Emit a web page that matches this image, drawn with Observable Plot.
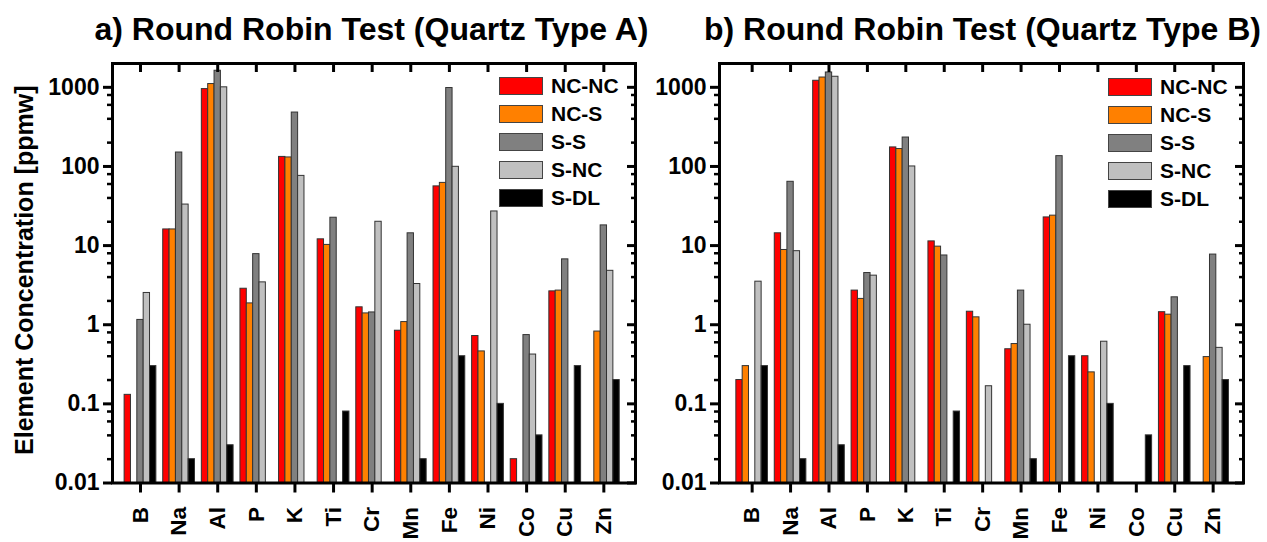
<!DOCTYPE html>
<html>
<head>
<meta charset="utf-8">
<script src="https://cdn.jsdelivr.net/npm/d3@7"></script>
<script src="https://cdn.jsdelivr.net/npm/@observablehq/plot@0.6"></script>
<style>
  body { margin: 0; background: #fff; }
  #chart { position: relative; width: 1267px; height: 542px; overflow: hidden;
           font-family: "Liberation Sans", Arial, sans-serif; color: #000; }
  .panel { position: absolute; top: 0; }
  .title { position: absolute; top: 13px; font-size: 32px; line-height: 32px; font-weight: bold;
           white-space: nowrap; transform: translateX(-50%); }
  .legend { position: absolute; }
  .legend-item { position: absolute; left: 0; height: 18px; white-space: nowrap; }
  .swatch { position: absolute; left: 0; top: 0; width: 42px; height: 16px; border: 1.5px solid #444; }
  .legend-label { position: absolute; left: 52px; top: -3px; font-size: 21px; line-height: 24px; font-weight: bold; }
</style>
</head>
<body>
<div id="chart"></div>
<script>
// Elements measured in the round robin test
const elements = ["B", "Na", "Al", "P", "K", "Ti", "Cr", "Mn", "Fe", "Ni", "Co", "Cu", "Zn"];
const series = ["NC-NC", "NC-S", "S-S", "S-NC", "S-DL"];
const seriesColors = ["#ff0000", "#ff8000", "#808080", "#c0c0c0", "#000000"];
const yTickValues = [0.01, 0.1, 1, 10, 100, 1000];
const yTickLabels = ["0.01", "0.1", "1", "10", "100", "1000"];
const titles = ["a) Round Robin Test (Quartz Type A)", "b) Round Robin Test (Quartz Type B)"];
const yLabel = "Element Concentration [ppmw]";

// Concentrations in ppmw, one value per element (null = no bar)
const typeA_NCNC = [0.13, 16, 950, 2.85, 132, 12.0, 1.66, 0.84, 56, 0.72, 0.02, 2.64, null];
const typeA_NCS  = [null, 16, 1100, 1.86, 130, 10.2, 1.39, 1.08, 62, 0.46, null, 2.7, 0.82];
const typeA_SS   = [1.15, 150, 1620, 7.8, 480, 22.5, 1.43, 14.3, 980, null, 0.74, 6.7, 18];
const typeA_SNC  = [2.52, 33, 1000, 3.43, 76, null, 20, 3.27, 99, 27, 0.42, null, 4.8];
const typeA_SDL  = [0.3, 0.02, 0.03, null, null, 0.08, null, 0.02, 0.4, 0.1, 0.04, 0.3, 0.2];

const typeB_NCNC = [0.2, 14.3, 1210, 2.7, 174, 11.3, 1.46, 0.49, 22.7, 0.4, null, 1.44, null];
const typeB_NCS  = [0.3, 8.8, 1330, 2.12, 166, 9.7, 1.24, 0.57, 23.9, 0.25, null, 1.34, 0.39];
const typeB_SS   = [null, 64, 1540, 4.5, 232, 7.5, null, 2.7, 135, null, null, 2.22, 7.7];
const typeB_SNC  = [3.5, 8.5, 1360, 4.17, 100, null, 0.167, 1.0, null, 0.61, null, null, 0.51];
const typeB_SDL  = [0.3, 0.02, 0.03, null, null, 0.08, null, 0.02, 0.4, 0.1, 0.04, 0.3, 0.2];

const FONT = '"Liberation Sans", Arial, sans-serif';
const yDomain = [0.01, 2000];
const barW = 0.1645;                       // bar width in category units
const minorTicks = [];
for (let e = -2; e <= 3; e++) for (const m of [2, 4, 6, 8]) {
  const v = m * 10 ** e;
  if (v < yDomain[1]) minorTicks.push(v);
}

function toRows(cols) {
  const rows = [];
  cols.forEach((vals, k) => vals.forEach((v, i) => {
    if (v != null) rows.push({element: elements[i], series: series[k], i, k, value: v});
  }));
  return rows;
}

function panel({cols, width, marginLeft, marginRight, xDomain, withYLabel}) {
  const rows = toRows(cols);
  const idx = d3.range(elements.length);
  const marks = [
    Plot.rectY(rows, {
      x1: d => d.i + (d.k - 2.5) * barW,
      x2: d => d.i + (d.k - 1.5) * barW,
      y1: yDomain[0], y2: "value",
      fill: "series", stroke: "#333", strokeWidth: 1
    }),
    // left axis: outward ticks, labelled decades
    Plot.axisY(minorTicks, {anchor: "left", label: null, tickSize: 5, tickFormat: () => "", strokeWidth: 2.5}),
    Plot.axisY(yTickValues, {anchor: "left", label: null, tickSize: 9, tickPadding: 4, strokeWidth: 3,
      tickFormat: d => yTickLabels[yTickValues.indexOf(d)], fontSize: 23, fontWeight: "bold"}),
    // right axis: mirrored inward ticks
    Plot.axisY(minorTicks, {anchor: "right", label: null, tickSize: 5, dx: -5, tickFormat: () => "", strokeWidth: 2.5}),
    Plot.axisY(yTickValues, {anchor: "right", label: null, tickSize: 9, dx: -9, tickFormat: () => "", strokeWidth: 3}),
    // bottom ticks outward, top ticks inward
    Plot.axisX(idx, {anchor: "bottom", label: null, tickSize: 10, tickFormat: () => "", strokeWidth: 3}),
    Plot.axisX(idx, {anchor: "top", label: null, tickSize: 8, dy: 8, tickFormat: () => "", strokeWidth: 3}),
    // element names, rotated
    Plot.text(elements, {x: (d, i) => i, text: d => d, frameAnchor: "bottom", dy: 24,
      rotate: -90, textAnchor: "end", lineAnchor: "middle", fontSize: 22.5, fontWeight: "bold"}),
    Plot.frame({strokeWidth: 3})
  ];
  if (withYLabel) {
    marks.push(Plot.text([yLabel], {text: d => d, frameAnchor: "left", dx: -88, dy: -3,
      rotate: -90, textAnchor: "middle", lineAnchor: "middle", fontSize: 25, fontWeight: "bold"}));
  }
  return Plot.plot({
    width, height: 542,
    marginLeft, marginRight, marginTop: 63, marginBottom: 59.5,
    x: {type: "linear", domain: xDomain, axis: null},
    y: {type: "log", domain: yDomain, axis: null},
    color: {domain: series, range: seriesColors},
    style: {fontFamily: FONT, fontSize: "22px", fontWeight: "bold", color: "#000",
            background: "transparent", overflow: "visible"},
    marks
  });
}

const chart = document.getElementById("chart");

const panels = [
  {cols: [typeA_NCNC, typeA_NCS, typeA_SS, typeA_SNC, typeA_SDL], left: 0, width: 645,
   marginLeft: 112, marginRight: 10, xDomain: [-0.725, 12.82], withYLabel: true,
   titleX: 371.5, legendX: 499, legendY: 77},
  {cols: [typeB_NCNC, typeB_NCS, typeB_SS, typeB_SNC, typeB_SDL], left: 645, width: 622,
   marginLeft: 74, marginRight: 24, xDomain: [-0.85, 12.79], withYLabel: false,
   titleX: 982.5, legendX: 1108, legendY: 78}
];

panels.forEach((p, pi) => {
  const svg = panel(p);
  const wrap = document.createElement("div");
  wrap.className = "panel";
  wrap.style.left = p.left + "px";
  wrap.appendChild(svg);
  chart.appendChild(wrap);

  const t = document.createElement("div");
  t.className = "title";
  t.style.left = p.titleX + "px";
  t.textContent = titles[pi];
  chart.appendChild(t);

  const lg = document.createElement("div");
  lg.className = "legend";
  lg.style.left = p.legendX + "px";
  lg.style.top = p.legendY + "px";
  series.forEach((s, k) => {
    const item = document.createElement("div");
    item.className = "legend-item";
    item.style.top = (k * 28.1) + "px";
    const sw = document.createElement("div");
    sw.className = "swatch";
    sw.style.background = seriesColors[k];
    const lab = document.createElement("div");
    lab.className = "legend-label";
    lab.textContent = s;
    item.appendChild(sw);
    item.appendChild(lab);
    lg.appendChild(item);
  });
  chart.appendChild(lg);
});
</script>
</body>
</html>
